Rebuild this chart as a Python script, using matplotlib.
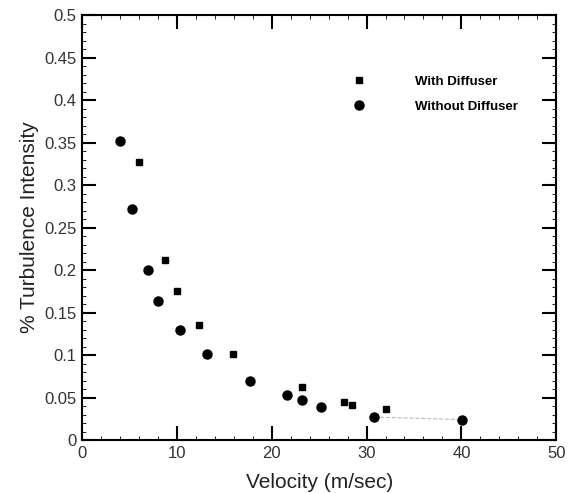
import numpy as np
import matplotlib.pyplot as plt
from matplotlib.ticker import MultipleLocator

plt.rcParams['font.family'] = ['Liberation Sans', 'DejaVu Sans']

# with diffuser (squares)
velWith = [6.05, 8.7, 10.05, 12.3, 15.95, 23.2, 27.6, 28.5, 32.1]
tiWith = [0.327, 0.212, 0.175, 0.135, 0.101, 0.062, 0.045, 0.041, 0.036]

# without diffuser (circles)
velWithout = [3.95, 5.25, 6.9, 8.05, 10.35, 13.15, 17.7, 21.6, 23.2, 25.2, 30.8, 40.05]
tiWithout = [0.352, 0.272, 0.2, 0.164, 0.13, 0.101, 0.07, 0.053, 0.047, 0.039, 0.027, 0.024]

yTickLabels = ['0', '0.05', '0.1', '0.15', '0.2', '0.25', '0.3', '0.35', '0.4', '0.45', '0.5']

fig = plt.figure(figsize=(5.74, 4.93), dpi=100)
ax = fig.add_axes([0.143, 0.1075, 0.826, 0.862])

ax.plot(velWith, tiWith, 's', color='black', markersize=4, label='With Diffuser')
ax.plot(velWithout, tiWithout, 'o', color='black', markersize=6.5, label='Without Diffuser')
# faint trace between the last two points
ax.plot(velWithout[-2:], tiWithout[-2:], '--', color='#bbbbbb', linewidth=0.8, zorder=0)

ax.set_xlim(0, 50)
ax.set_ylim(0, 0.5)
ax.xaxis.set_major_locator(MultipleLocator(10))
ax.xaxis.set_minor_locator(MultipleLocator(2))
ax.set_yticks(np.arange(0, 0.51, 0.05))
ax.set_yticklabels(yTickLabels)
ax.yaxis.set_minor_locator(MultipleLocator(0.01))
ax.tick_params(which='major', direction='in', length=10, width=1.5, top=True, right=True,
               labelsize=12, labelcolor='#333333', pad=4)
ax.tick_params(which='minor', direction='in', length=3, width=0.6, top=True, right=True)
for s in ax.spines.values():
    s.set_linewidth(1.5)

ax.set_xlabel('Velocity (m/sec)', fontsize=15, color='#222222', labelpad=9)
ax.set_ylabel('% Turbulence Intensity', fontsize=15, color='#222222', labelpad=4)

ax.legend(loc='upper left', bbox_to_anchor=(0.537, 0.884), frameon=False,
          prop={'weight': 'bold', 'size': 9.5}, handlelength=1.7, handletextpad=3.4,
          labelspacing=1.0, borderpad=0.34)

fig.savefig('out.png', dpi=100)
